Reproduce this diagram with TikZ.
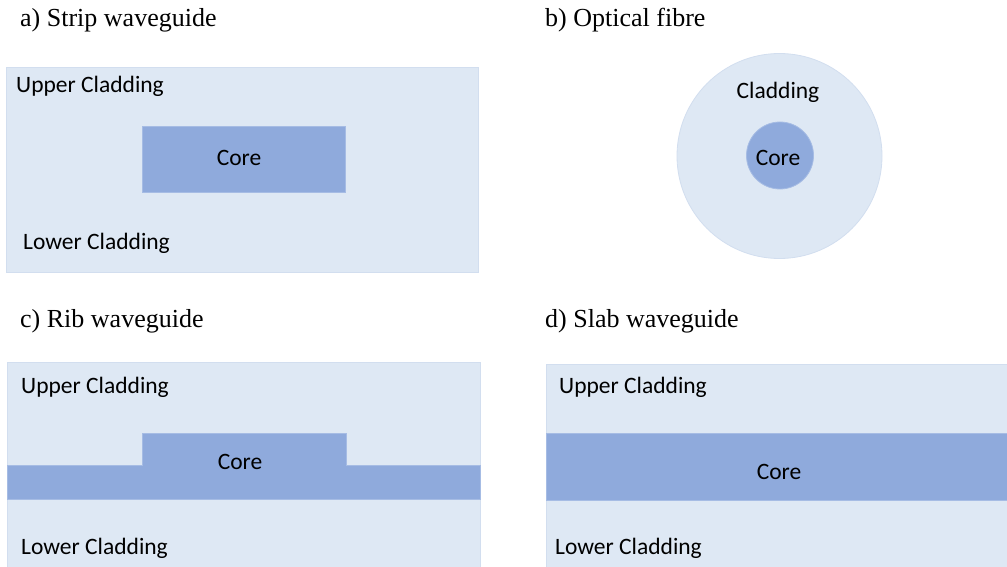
\documentclass[tikz,border=0pt]{standalone}
\usepackage{fontspec}
\setmainfont{Liberation Serif}
\newfontfamily\labelfont{Carlito}
\definecolor{clad}{HTML}{DEE8F4}
\definecolor{cladline}{HTML}{D2DEEF}
\definecolor{corefill}{HTML}{8FAADC}
\definecolor{coreline}{HTML}{A6BCE4}
\tikzset{
  cladding/.style={fill=clad,draw=cladline,line width=0.8pt},
  core/.style={fill=corefill,draw=coreline,line width=0.8pt},
  lbl/.style={font=\labelfont\fontsize{23.5}{27}\selectfont,inner sep=0pt},
  title/.style={font=\fontsize{26}{30}\selectfont,inner sep=0pt,anchor=west}
}
\begin{document}
\begin{tikzpicture}[x=1pt,y=-1pt]
\useasboundingbox (0,0) rectangle (1007,567);
% a) guide ruban
\node[title] (ta) at (20,20) {a) Strip waveguide};
\draw[cladding] (6,67) rectangle (478,272);
\draw[core] (142,126) rectangle (345,192);
\node[lbl,anchor=west] (ua) at (16,86.5) {Upper Cladding};
\node[lbl] (ca) at (239,158) {Core};
\node[lbl,anchor=west] (la) at (23,243.5) {Lower Cladding};
% b) fibre optique
\node[title] (tb) at (545,20) {b) Optical fibre};
\draw[cladding] (779.5,156) circle (102.5);
\draw[core] (780,155.5) circle (33.5);
\node[lbl] (cb) at (778,92.5) {Cladding};
\node[lbl] (kb) at (778,158) {Core};
% c) guide en arete
\node[title] (tc) at (20,321) {c) Rib waveguide};
\draw[cladding] (7,362) rectangle (480,568);
\draw[core] (7,465) -- (142,465) -- (142,433) -- (346,433) -- (346,465)
  -- (480,465) -- (480,499) -- (7,499) -- cycle;
\node[lbl,anchor=west] (uc) at (21,387.5) {Upper Cladding};
\node[lbl] (kc) at (240,462) {Core};
\node[lbl,anchor=west] (lc) at (21,548) {Lower Cladding};
% d) guide plan
\node[title] (td) at (545,321) {d) Slab waveguide};
\draw[cladding] (546,364) rectangle (1008,568);
\draw[core] (546,433) rectangle (1008,500);
\node[lbl,anchor=west] (ud) at (559,387.5) {Upper Cladding};
\node[lbl] (kd) at (779,472) {Core};
\node[lbl,anchor=west] (ld) at (555,548) {Lower Cladding};
\end{tikzpicture}
\end{document}
